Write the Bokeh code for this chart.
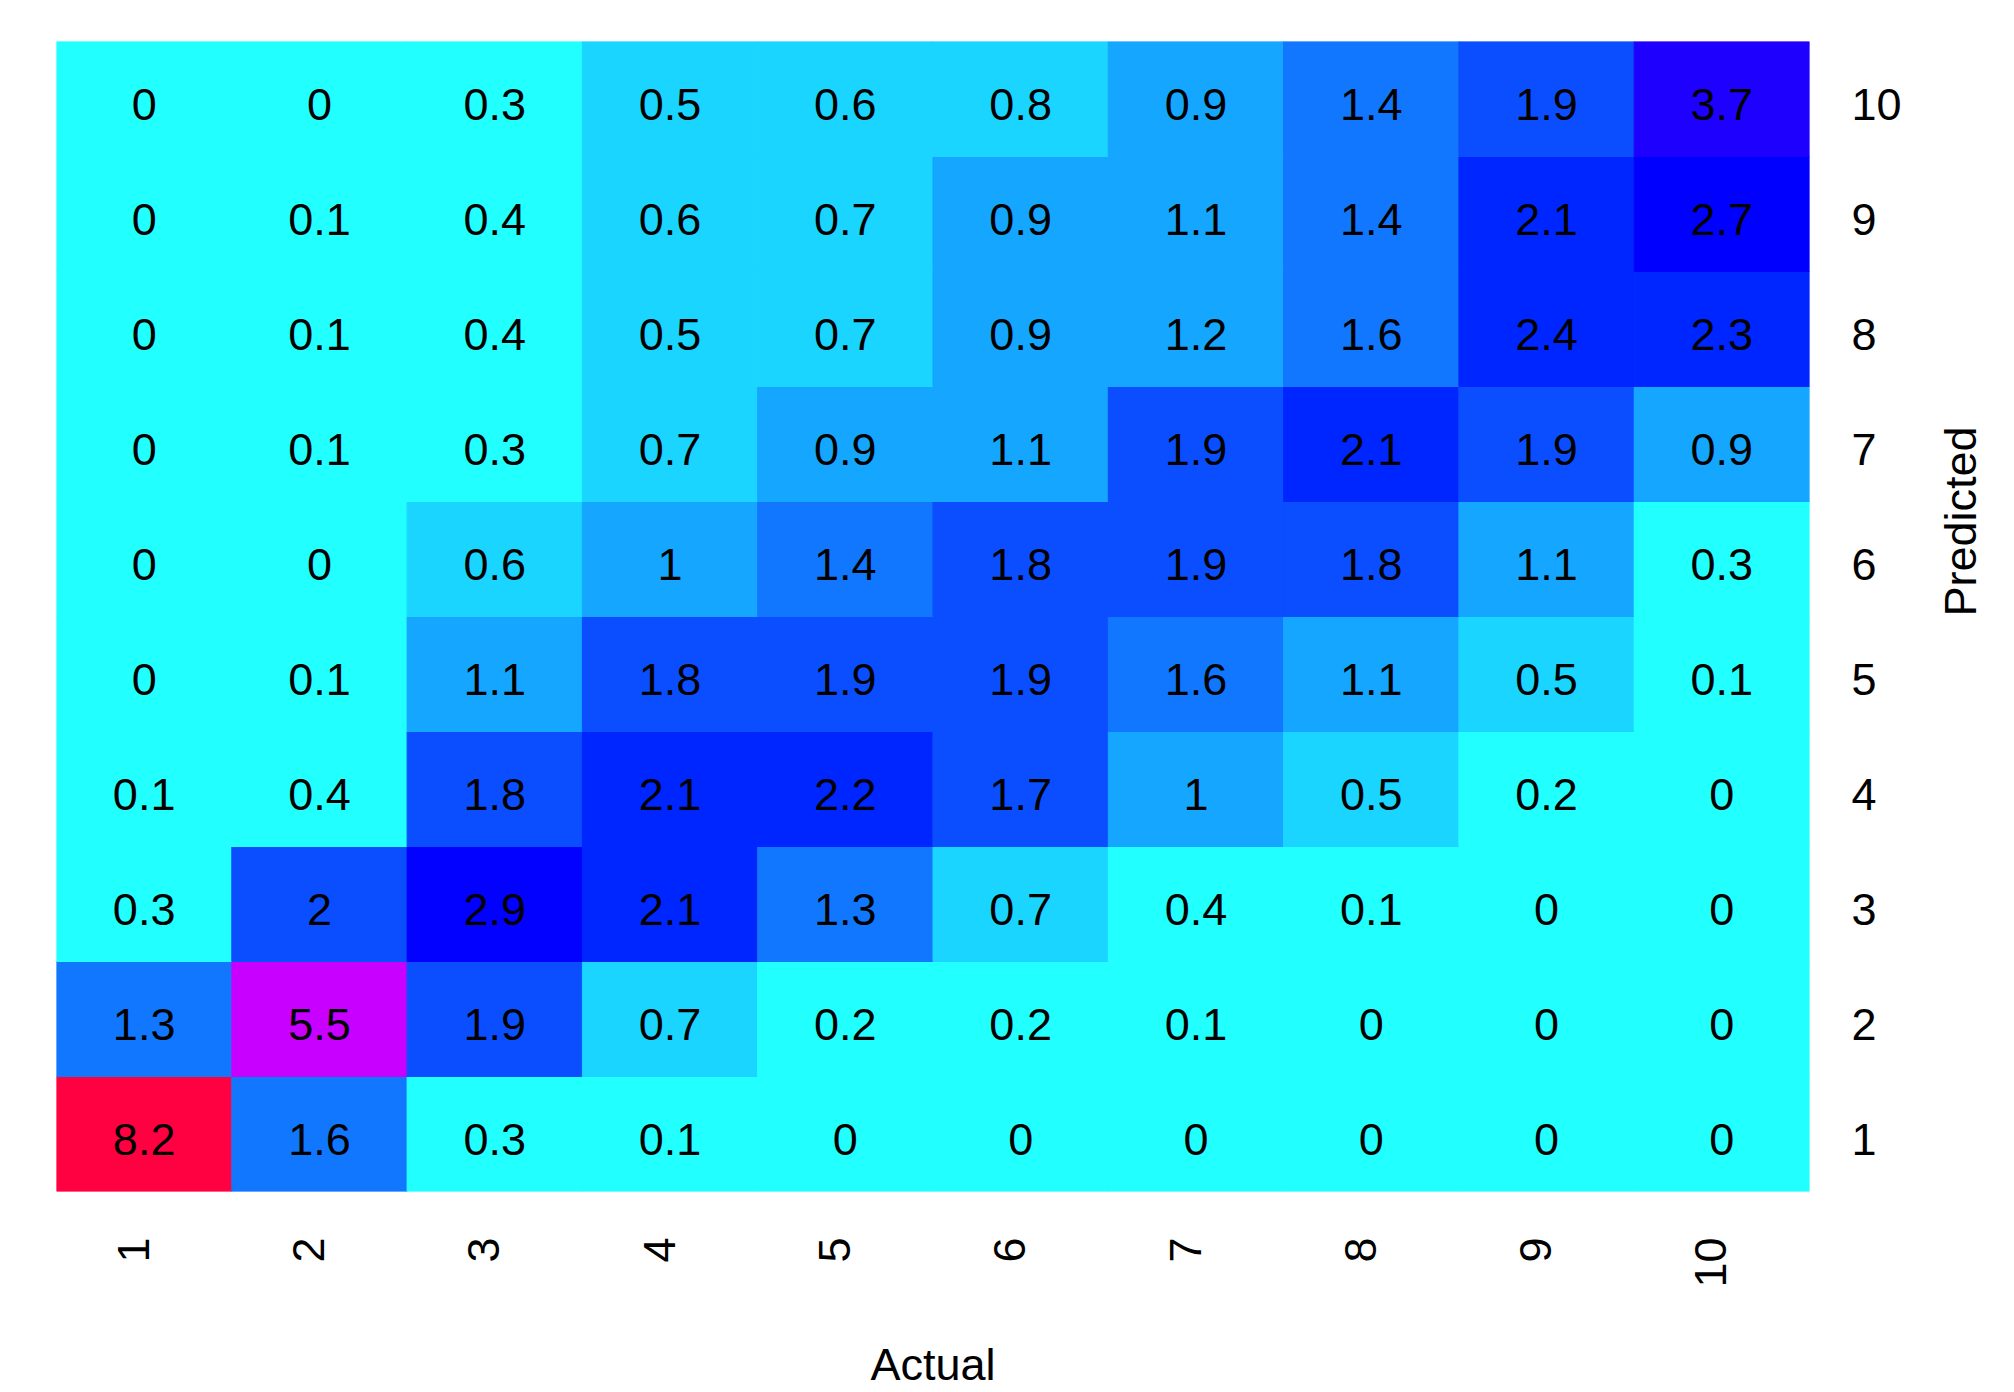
import math
from bokeh.plotting import figure
from bokeh.models import (ColumnDataSource, LinearColorMapper, LinearAxis,
                          Range1d, FixedTicker)
from bokeh.core.properties import value
from bokeh.embed import file_html
from bokeh.resources import INLINE

# ---- data ----
actual_labels = ["1", "2", "3", "4", "5", "6", "7", "8", "9", "10"]
predicted_labels = ["1", "2", "3", "4", "5", "6", "7", "8", "9", "10"]

# one list per predicted class, values across actual classes 1..10
pred_10 = [0, 0, 0.3, 0.5, 0.6, 0.8, 0.9, 1.4, 1.9, 3.7]
pred_9 = [0, 0.1, 0.4, 0.6, 0.7, 0.9, 1.1, 1.4, 2.1, 2.7]
pred_8 = [0, 0.1, 0.4, 0.5, 0.7, 0.9, 1.2, 1.6, 2.4, 2.3]
pred_7 = [0, 0.1, 0.3, 0.7, 0.9, 1.1, 1.9, 2.1, 1.9, 0.9]
pred_6 = [0, 0, 0.6, 1, 1.4, 1.8, 1.9, 1.8, 1.1, 0.3]
pred_5 = [0, 0.1, 1.1, 1.8, 1.9, 1.9, 1.6, 1.1, 0.5, 0.1]
pred_4 = [0.1, 0.4, 1.8, 2.1, 2.2, 1.7, 1, 0.5, 0.2, 0]
pred_3 = [0.3, 2, 2.9, 2.1, 1.3, 0.7, 0.4, 0.1, 0, 0]
pred_2 = [1.3, 5.5, 1.9, 0.7, 0.2, 0.2, 0.1, 0, 0, 0]
pred_1 = [8.2, 1.6, 0.3, 0.1, 0, 0, 0, 0, 0, 0]

rows = {
    "1": pred_1, "2": pred_2, "3": pred_3, "4": pred_4, "5": pred_5,
    "6": pred_6, "7": pred_7, "8": pred_8, "9": pred_9, "10": pred_10,
}

x_title = "Actual"
y_title = "Predicted"

palette = [
    "#22FFFF", "#1AD5FF", "#15A6FF", "#1177FF", "#0B4EFF",
    "#0026FF", "#0000FF", "#0200FF", "#0F00FF", "#1E00FF",
    "#4000FF", "#6400FF", "#9600FF", "#C800FF", "#E600FF",
    "#FF00F0", "#FF00C0", "#FF0090", "#FF0068", "#FF0040",
]

# numeric positions 1..n for the categories
xpos = {lab: i + 1 for i, lab in enumerate(actual_labels)}
ypos = {lab: i + 1 for i, lab in enumerate(predicted_labels)}

xs, ys, vals, texts = [], [], [], []
for pred in predicted_labels:
    for act, v in zip(actual_labels, rows[pred]):
        xs.append(xpos[act])
        ys.append(ypos[pred])
        vals.append(v)
        texts.append(f"{v:g}")

src = ColumnDataSource(dict(actual=xs, predicted=ys, value=vals, label=texts))
mapper = LinearColorMapper(palette=palette, low=0, high=8.2)

FONT = "Liberation Sans"
nx, ny = len(actual_labels), len(predicted_labels)

p = figure(
    x_range=Range1d(0.5, nx + 0.5), y_range=Range1d(0.5, ny + 0.5),
    width=2014, height=1392,
    output_backend="svg", toolbar_location=None, tools="",
    x_axis_location=None, y_axis_location=None,
    min_border_left=56, min_border_top=41,
    min_border_right=204, min_border_bottom=200,
)
p.outline_line_color = None
p.grid.visible = False
p.background_fill_color = "white"
p.border_fill_color = "white"

p.rect(x="actual", y="predicted", width=1, height=1, source=src,
       fill_color={"field": "value", "transform": mapper},
       line_color={"field": "value", "transform": mapper}, line_width=1)

p.text(x="actual", y="predicted", text="label", source=src,
       text_align="center", text_baseline="alphabetic", y_offset=5,
       text_font=value(FONT), text_font_size="45px", text_color="black")

# tick-label axes (slightly nudged ranges to mimic the original label placement)
p.extra_x_ranges = {"xlab": Range1d(0.5 + 0.062, nx + 0.5 + 0.062)}
p.extra_y_ranges = {"ylab": Range1d(0.5 + 0.05, ny + 0.5 + 0.05)}

xaxis = LinearAxis(x_range_name="xlab",
                   ticker=FixedTicker(ticks=list(xpos.values())),
                   major_label_overrides={v: k for k, v in xpos.items()},
                   axis_label=x_title)
yaxis = LinearAxis(y_range_name="ylab",
                   ticker=FixedTicker(ticks=list(ypos.values())),
                   major_label_overrides={v: k for k, v in ypos.items()},
                   axis_label=y_title)

for ax in (xaxis, yaxis):
    ax.axis_line_color = None
    ax.major_tick_line_color = None
    ax.minor_tick_line_color = None
    ax.major_tick_out = 0
    ax.major_tick_in = 0
    ax.minor_tick_out = 0
    ax.minor_tick_in = 0
    ax.major_label_text_font = FONT
    ax.major_label_text_font_size = "45px"
    ax.major_label_text_color = "black"
    ax.axis_label_text_font = FONT
    ax.axis_label_text_font_size = "45px"
    ax.axis_label_text_font_style = "normal"
    ax.axis_label_text_color = "black"

xaxis.major_label_orientation = math.pi / 2
xaxis.major_label_standoff = 46
xaxis.axis_label_standoff = 48

yaxis.major_label_standoff = 42
yaxis.axis_label_orientation = math.pi / 2
yaxis.axis_label_standoff = 56

p.add_layout(xaxis, "below")
p.add_layout(yaxis, "right")

open("out.html", "w").write(file_html(p, INLINE))
